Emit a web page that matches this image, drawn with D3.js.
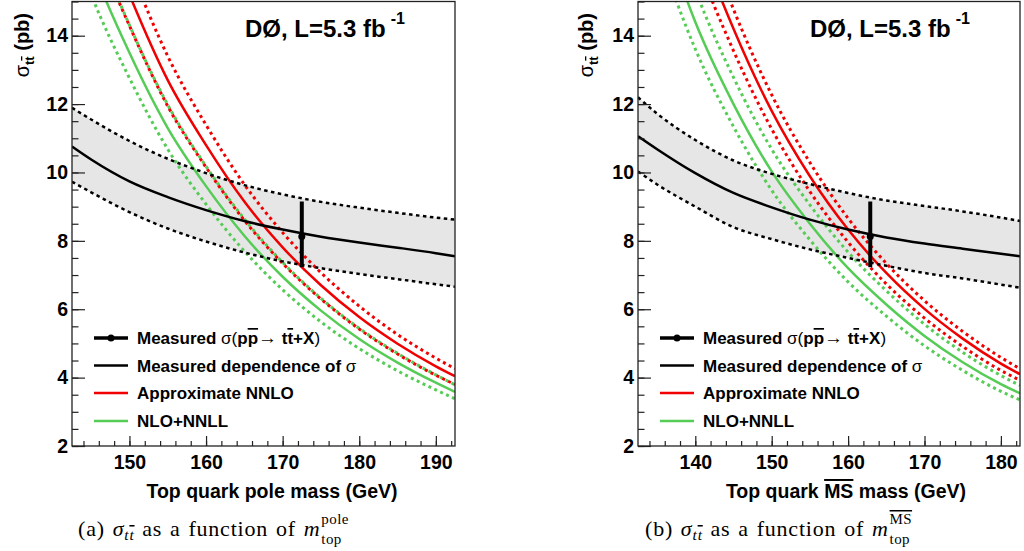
<!DOCTYPE html>
<html><head><meta charset="utf-8">
<script src="https://cdn.jsdelivr.net/npm/d3@7"></script>
<style>body{margin:0;background:#fff} svg{display:block}</style>
</head><body><svg id="c" width="1024" height="551"></svg>
<script>
// ---------- data: pole mass panel ----------
const massPole = [142.5,145,150,155,160,165,170,175,180,185,190,192.5];
const measPole   = [10.76,10.38,9.74,9.28,8.9,8.58,8.33,8.12,7.95,7.8,7.64,7.55];
const measPoleHi = [11.89,11.55,10.92,10.4,9.98,9.63,9.36,9.14,8.97,8.82,8.68,8.62];
const measPoleLo = [9.73,9.42,8.84,8.36,7.98,7.66,7.4,7.2,7.03,6.88,6.73,6.66];
const nnloPole   = [19.9,18.1,15.2,12.7,10.8,9.15,7.81,6.70,5.77,4.99,4.33,4.04];
const nnloPoleHi = [21.0,19.1,16.04,13.4,11.39,9.65,8.24,7.07,6.09,5.26,4.57,4.26];
const nnloPoleLo = [18.7,17.0,14.29,11.94,10.15,8.6,7.34,6.3,5.42,4.69,4.07,3.80];
const nnllPole   = [17.7,16.1,13.5,11.3,9.6,8.15,6.95,5.96,5.13,4.44,3.85,3.58];
const nnllPoleHi = [18.8,17.1,14.31,11.98,10.18,8.64,7.37,6.32,5.44,4.71,4.08,3.79];
const nnllPoleLo = [16.7,15.2,12.76,10.68,9.07,7.7,6.57,5.63,4.85,4.2,3.64,3.38];
const pointPole = {m:172.5, s:8.13, up:1.02, dn:0.90};
const xTicksPole = [150,160,170,180,190];

// ---------- data: MS-bar mass panel ----------
const massMS = [132.5,135,140,145,150,155,160,165,170,175,180,182.5];
const measMS   = [11.06,10.68,9.98,9.4,8.98,8.62,8.33,8.1,7.92,7.77,7.62,7.55];
const measMSHi = [12.2,11.72,10.95,10.35,9.96,9.66,9.4,9.18,9.02,8.86,8.68,8.58];
const measMSLo = [10.03,9.65,9.0,8.4,8.05,7.75,7.5,7.27,7.06,6.9,6.72,6.63];
const nnloMS   = [23.1,20.9,17.1,14.2,11.8,9.89,8.33,7.06,6.01,5.14,4.41,4.10];
const nnloMSHi = [24.0,21.7,17.8,14.77,12.27,10.29,8.66,7.34,6.25,5.35,4.59,4.26];
const nnloMSLo = [22.1,20.0,16.33,13.56,11.27,9.44,7.96,6.74,5.74,4.91,4.21,3.92];
const nnllMS   = [19.4,17.6,14.4,12.0,10.03,8.5,7.2,6.14,5.22,4.45,3.81,3.54];
const nnllMSHi = [20.7,18.7,15.34,12.78,10.68,9.05,7.67,6.54,5.56,4.74,4.06,3.77];
const nnllMSLo = [18.3,16.6,13.61,11.34,9.48,8.03,6.8,5.8,4.93,4.21,3.6,3.35];
const pointMS = {m:162.9, s:8.13, up:1.02, dn:0.90};
const xTicksMS = [140,150,160,170,180];

const yTicks = [2,4,6,8,10,12,14];
const legendLabels = ["Measured", "Measured dependence of ", "Approximate NNLO", "NLO+NNLL"];

const RED = "#f00000", GREEN = "#55cc55";
const svg = d3.select("#c");
const SANS = "'Liberation Sans', Arial, sans-serif";
const SERIF = "'Liberation Serif', 'Times New Roman', serif";

function drawPanel(p, idx) {
  const x = d3.scaleLinear().domain(p.xDomain).range([p.x0, p.x1]);
  const y = d3.scaleLinear().domain([2,15]).range([446, 1.5]);
  const g = svg.append("g");
  const cid = "clip" + idx;
  svg.append("defs").append("clipPath").attr("id", cid)
    .append("rect").attr("x", p.x0).attr("y", 1.5).attr("width", p.x1 - p.x0).attr("height", 446 - 1.5);
  const pg = g.append("g").attr("clip-path", `url(#${cid})`);
  const idxs = p.mass.map((d,i)=>i);
  const area = d3.area().x(i=>x(p.mass[i])).y0(i=>y(p.measLo[i])).y1(i=>y(p.measHi[i])).curve(d3.curveMonotoneX);
  pg.append("path").attr("d", area(idxs)).attr("fill", "#e6e6e6");
  const ln = arr => d3.line().x(i=>x(p.mass[i])).y(i=>y(arr[i])).curve(d3.curveMonotoneX)(idxs);
  const addLine = (arr, color, w, dash) => pg.append("path").attr("d", ln(arr)).attr("fill","none")
      .attr("stroke", color).attr("stroke-width", w).attr("stroke-dasharray", dash || null);
  addLine(p.nnllLo, GREEN, 3, "3,3.5");
  addLine(p.nnllHi, GREEN, 3, "3,3.5");
  addLine(p.nnll, GREEN, 2.5);
  addLine(p.nnloLo, RED, 3, "3,3.5");
  addLine(p.nnloHi, RED, 3, "3,3.5");
  addLine(p.nnlo, RED, 2.5);
  addLine(p.measHi, "#000", 2.5, "3.5,3.5");
  addLine(p.measLo, "#000", 2.5, "3.5,3.5");
  addLine(p.meas, "#000", 2.5);
  // measured point
  pg.append("line").attr("x1", x(p.pt.m)).attr("x2", x(p.pt.m))
    .attr("y1", y(p.pt.s + p.pt.up)).attr("y2", y(p.pt.s - p.pt.dn))
    .attr("stroke", "#000").attr("stroke-width", 4);
  pg.append("circle").attr("cx", x(p.pt.m)).attr("cy", y(p.pt.s)).attr("r", 3.5).attr("fill", "#000");

  // frame
  g.append("rect").attr("x", p.x0).attr("y", 1.5).attr("width", p.x1 - p.x0).attr("height", 446 - 1.5)
    .attr("fill", "none").attr("stroke", "#222").attr("stroke-width", 1.3);

  // axes
  const yMinor = d3.range(2, 15.01, 0.5);
  const yax = g.append("g").attr("transform", `translate(${p.x0},0)`)
    .call(d3.axisLeft(y).tickValues(yMinor).tickSizeInner(-6.5).tickSizeOuter(0).tickFormat(""));
  yax.select(".domain").remove();
  const yax2 = g.append("g").attr("transform", `translate(${p.x0},0)`)
    .call(d3.axisLeft(y).tickValues(yTicks).tickSizeInner(-13).tickSizeOuter(0).tickPadding(4).tickFormat(d3.format("d")));
  yax2.select(".domain").remove();
  yax2.selectAll("text").attr("font-family", SANS).attr("font-weight", "bold").attr("font-size", 19.5).attr("fill","#000");
  g.selectAll(".tick line").attr("stroke", "#222").attr("stroke-width", 1.2);

  const xMinor = d3.range(Math.ceil(p.xDomain[0]/2)*2, p.xDomain[1]+0.01, 2);
  const xax = g.append("g").attr("transform", `translate(0,446)`)
    .call(d3.axisBottom(x).tickValues(xMinor).tickSizeInner(-5).tickSizeOuter(0).tickFormat(""));
  xax.select(".domain").remove();
  const xax2 = g.append("g").attr("transform", `translate(0,446)`)
    .call(d3.axisBottom(x).tickValues(p.xTicks).tickSizeInner(-10).tickSizeOuter(0).tickPadding(9).tickFormat(d3.format("d")));
  xax2.select(".domain").remove();
  xax2.selectAll("text").attr("font-family", SANS).attr("font-weight", "bold").attr("font-size", 19.5).attr("fill","#000");
  g.selectAll(".tick line").attr("stroke", "#222").attr("stroke-width", 1.2);

  // y title
  const yt = g.append("text").attr("transform", `translate(${p.yLabX},13) rotate(-90)`)
    .attr("text-anchor", "end").attr("font-family", SANS).attr("font-size", 20).attr("font-weight","bold");
  yt.append("tspan").attr("font-weight","normal").text("σ");
  yt.append("tspan").attr("font-size", 13).attr("dy", 5).text("t");
  yt.append("tspan").attr("font-size", 13).style("text-decoration","overline").text("t");
  yt.append("tspan").attr("dy", -5).text(" (pb)");

  // x title
  const xt = g.append("text").attr("x", p.xLabX).attr("y", 498).attr("text-anchor","middle")
    .attr("font-family", SANS).attr("font-size", 19.5).attr("font-weight","bold");
  p.xTitle(xt);

  // DØ
  const dt = g.append("text").attr("x", p.titleX).attr("y", 37).attr("font-family", SANS)
    .attr("font-size", 24).attr("font-weight","bold");
  dt.append("tspan").text("DØ, L=5.3 fb");
  dt.append("tspan").attr("font-size", 16).attr("dx", 5).attr("dy", -13).text("-1");

  // legend
  const lx = p.legX, rows = [338, 365.5, 393, 421];
  const lg = g.append("g");
  lg.append("line").attr("x1", lx).attr("x2", lx+34).attr("y1", rows[0]).attr("y2", rows[0]).attr("stroke","#000").attr("stroke-width",3.5);
  lg.append("circle").attr("cx", lx+17).attr("cy", rows[0]).attr("r", 3.5).attr("fill","#000");
  lg.append("line").attr("x1", lx).attr("x2", lx+34).attr("y1", rows[1]).attr("y2", rows[1]).attr("stroke","#000").attr("stroke-width",2.5);
  lg.append("line").attr("x1", lx).attr("x2", lx+34).attr("y1", rows[2]).attr("y2", rows[2]).attr("stroke",RED).attr("stroke-width",2.5);
  lg.append("line").attr("x1", lx).attr("x2", lx+34).attr("y1", rows[3]).attr("y2", rows[3]).attr("stroke",GREEN).attr("stroke-width",2.5);
  const tx = lx + 43;
  const lt = (row) => lg.append("text").attr("x", tx).attr("y", rows[row] + 6).attr("font-family", SANS)
      .attr("font-size", 17).attr("font-weight", "bold");
  const t0 = lt(0);
  t0.append("tspan").text(legendLabels[0] + " ");
  t0.append("tspan").attr("font-weight","normal").text("σ(");
  t0.append("tspan").text("p");
  t0.append("tspan").style("text-decoration","overline").text("p");
  t0.append("tspan").attr("font-weight","normal").attr("font-size", 19).text("→");
  t0.append("tspan").text(" t");
  t0.append("tspan").style("text-decoration","overline").text("t");
  t0.append("tspan").text("+X");
  t0.append("tspan").attr("font-weight","normal").text(")");
  const t1 = lt(1);
  t1.append("tspan").text(legendLabels[1]);
  t1.append("tspan").attr("font-weight","normal").text("σ");
  lt(2).text(legendLabels[2]);
  lt(3).text(legendLabels[3]);

  // caption
  const cap = svg.append("text").attr("x", p.capX).attr("y", 536).attr("font-family", SERIF).attr("font-size", 22)
    .attr("letter-spacing", 0.8).attr("word-spacing", 1.5);
  cap.append("tspan").text(p.capLetter + " ");
  cap.append("tspan").attr("font-style","italic").text("σ");
  cap.append("tspan").attr("font-style","italic").attr("font-size", 15.5).attr("dy", 4).text("t");
  cap.append("tspan").attr("font-style","italic").attr("font-size", 15.5).style("text-decoration","overline").text("t");
  cap.append("tspan").attr("dy", -4).text(" as a function of ");
  cap.append("tspan").attr("font-style","italic").text("m");
  const w = cap.node().getComputedTextLength();
  const sx = p.capX + w + 1;
  svg.append("text").attr("x", sx).attr("y", 544).attr("font-family", SERIF).attr("font-size", 15).attr("letter-spacing", 0.4).text("top");
  const sup = svg.append("text").attr("x", sx).attr("y", 524).attr("font-family", SERIF).attr("font-size", 15).attr("letter-spacing", 0.4);
  p.capSup(sup);
}

drawPanel({
  mass: massPole, meas: measPole, measHi: measPoleHi, measLo: measPoleLo,
  nnlo: nnloPole, nnloHi: nnloPoleHi, nnloLo: nnloPoleLo,
  nnll: nnllPole, nnllHi: nnllPoleHi, nnllLo: nnllPoleLo, pt: pointPole,
  xDomain: [142.5, 192.5], x0: 72, x1: 455, xTicks: xTicksPole,
  yLabX: 29, xLabX: 272, titleX: 245, legX: 94, capX: 78, capLetter: "(a)",
  xTitle: t => t.text("Top quark pole mass (GeV)"),
  capSup: t => t.text("pole")
}, 0);

drawPanel({
  mass: massMS, meas: measMS, measHi: measMSHi, measLo: measMSLo,
  nnlo: nnloMS, nnloHi: nnloMSHi, nnloLo: nnloMSLo,
  nnll: nnllMS, nnllHi: nnllMSHi, nnllLo: nnllMSLo, pt: pointMS,
  xDomain: [132.5, 182.5], x0: 638, x1: 1020, xTicks: xTicksMS,
  yLabX: 593, xLabX: 846, titleX: 810, legX: 660, capX: 645, capLetter: "(b)",
  xTitle: t => { t.append("tspan").text("Top quark ");
                 t.append("tspan").style("text-decoration","overline").text("MS");
                 t.append("tspan").text(" mass (GeV)"); },
  capSup: t => t.style("text-decoration","overline").text("MS")
}, 1);
</script>
</body></html>
